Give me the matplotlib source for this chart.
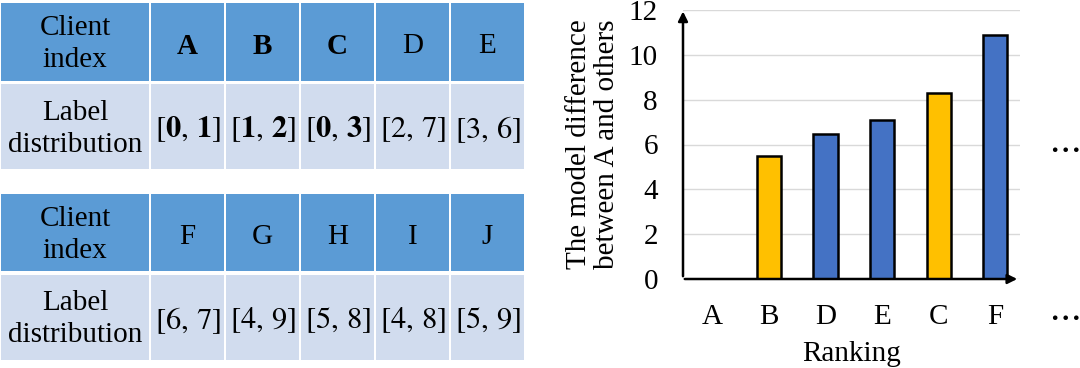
import matplotlib.pyplot as plt
from matplotlib.patches import Rectangle

plt.rcParams['font.family'] = 'serif'
plt.rcParams['font.serif'] = ['Liberation Serif', 'DejaVu Serif']
plt.rcParams['mathtext.fontset'] = 'stix'

# table data
clients_top = ['A', 'B', 'C', 'D', 'E']
dist_top = [(0, 1), (1, 2), (0, 3), (2, 7), (3, 6)]
clients_bot = ['F', 'G', 'H', 'I', 'J']
dist_bot = [(6, 7), (4, 9), (5, 8), (4, 8), (5, 9)]
similar = ['A', 'B', 'C']

# bar chart data
ranking = ['A', 'B', 'D', 'E', 'C', 'F']
difference = [0, 5.5, 6.45, 7.1, 8.3, 10.87]

blue_head = '#5B9BD5'
blue_body = '#D1DCEE'
bar_blue = '#4472C4'
bar_yellow = '#FFC000'
fs = 21

W, H = 1080, 368
fig = plt.figure(figsize=(W / 100, H / 100), dpi=100)

# tables drawn in pixel coordinates
tax = fig.add_axes([0, 0, 530 / W, 1])
tax.set_xlim(0, 530)
tax.set_ylim(H, 0)
tax.axis('off')


def fmt(pair, bold):
    if bold:
        return r'$\left[\mathbf{%d},\,\mathbf{%d}\right]$' % pair
    return r'$\left[%d,\,%d\right]$' % pair


def draw_table(y_head, h_head, y_body, h_body, clients, dists):
    cells = [(1, 148)] + [(151 + 75 * i, 73) for i in range(len(clients))]
    for x0, w in cells:
        tax.add_patch(Rectangle((x0, y_head), w, h_head, color=blue_head, lw=0))
        tax.add_patch(Rectangle((x0, y_body), w, h_body, color=blue_body, lw=0))
    yc_h = y_head + h_head / 2
    yc_b = y_body + h_body / 2
    tax.text(75, yc_h + 2, 'Client\nindex', ha='center', va='center', fontsize=fs, linespacing=1.3)
    tax.text(75, yc_b + 2, 'Label\ndistribution', ha='center', va='center', fontsize=fs, linespacing=1.3)
    for i, (c, d) in enumerate(zip(clients, dists)):
        xc = cells[i + 1][0] + 36.5
        b = c in similar
        tax.text(xc, yc_h + 4, c, ha='center', va='center', fontsize=fs,
                 fontweight='bold' if b else 'normal')
        tax.text(xc, yc_b + 3, fmt(d, b), ha='center', va='center', fontsize=22)


draw_table(3, 78, 84, 85, clients_top, dist_top)
draw_table(194, 77, 275, 85, clients_bot, dist_bot)

# bar chart
ax = fig.add_axes([683 / W, 1 - 279 / H, (1020 - 683) / W, (279 - 10) / H])
x = list(range(len(ranking)))
colors = [bar_yellow if r in similar[1:] else bar_blue for r in ranking]
ax.bar(x, difference, width=0.425, color=colors, edgecolor='black', linewidth=1.8, zorder=3)
ax.set_xlim(-0.52, 5.44)
ax.set_ylim(0, 12)
ax.set_yticks(range(0, 13, 2))
ax.set_xticks(x)
ax.set_xticklabels(ranking)
ax.tick_params(length=0, labelsize=fs, pad=18)
ax.tick_params(axis='x', pad=18)
for s in ax.spines.values():
    s.set_visible(False)
ax.yaxis.grid(True, color='#D9D9D9', lw=1, zorder=0)
ax.set_axisbelow(True)
ax.annotate('', xy=(0, 1.005), xytext=(0, 0), xycoords='axes fraction',
            arrowprops=dict(arrowstyle='-|>', lw=1.8, color='black', mutation_scale=14), zorder=5)
ax.annotate('', xy=(1.0, 0), xytext=(-0.003, 0), xycoords='axes fraction',
            arrowprops=dict(arrowstyle='-|>', lw=1.8, color='black', mutation_scale=14), zorder=5)
ax.set_xlabel('Ranking', fontsize=fs, labelpad=8)

fig.text(593 / W, 1 - 144 / H, 'The model difference\nbetween A and others', rotation=90,
         ha='center', va='center', fontsize=fs, linespacing=1.1)

fig.text(1064 / W, 1 - 148 / H, r'$\cdots$', ha='center', va='center', fontsize=26)
fig.text(1064 / W, 1 - 316 / H, r'$\cdots$', ha='center', va='center', fontsize=26)

fig.savefig('out.png', dpi=100)
